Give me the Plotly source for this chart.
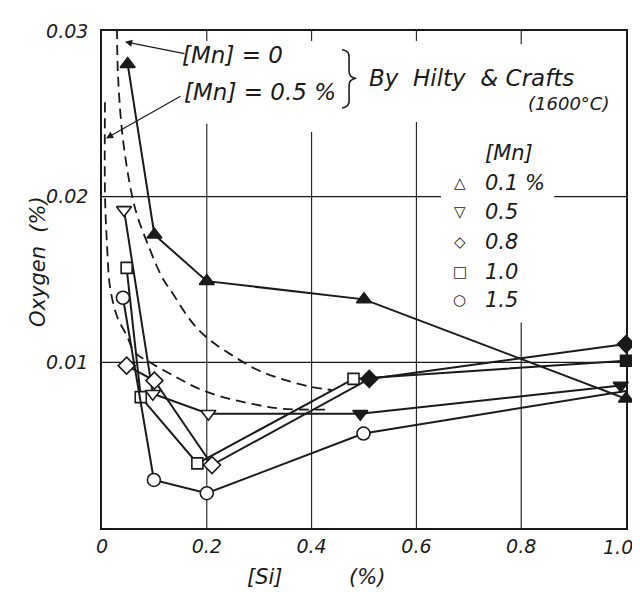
import plotly.graph_objects as go

# ---------------- data ----------------
si_mn01 = [0.049, 0.10, 0.20, 0.50, 1.00]
o_mn01 = [0.0280, 0.0177, 0.0149, 0.0138, 0.0078]

si_mn05 = [0.042, 0.097, 0.203, 0.493, 0.99]
o_mn05 = [0.0192, 0.0081, 0.0069, 0.0069, 0.0086]

si_mn08 = [0.047, 0.10, 0.21, 0.51, 1.00]
o_mn08 = [0.0098, 0.0089, 0.0038, 0.0090, 0.0111]

si_mn10 = [0.047, 0.074, 0.182, 0.48, 1.00]
o_mn10 = [0.0157, 0.0079, 0.0039, 0.0090, 0.0101]

si_mn15 = [0.040, 0.099, 0.20, 0.499, 1.005]
o_mn15 = [0.0139, 0.0029, 0.0021, 0.0057, 0.0083]

# Hilty & Crafts curves
si_hc0 = [0.0285, 0.0304, 0.0398, 0.0569, 0.0683, 0.0873, 0.1139, 0.1347, 0.1727,
          0.2049, 0.2486, 0.2941, 0.3435, 0.4004, 0.4383]
o_hc0 = [0.0311, 0.02744, 0.02351, 0.02012, 0.01875, 0.01714, 0.01518, 0.01417, 0.01238,
         0.01137, 0.01042, 0.00958, 0.00899, 0.00851, 0.00833]

si_hc05 = [0.0057, 0.0057, 0.0095, 0.0152, 0.0285, 0.0474, 0.0626, 0.0911, 0.1347,
           0.186, 0.243, 0.294, 0.3435, 0.4326]
o_hc05 = [0.0257, 0.02012, 0.01714, 0.01458, 0.0128, 0.0116, 0.0106, 0.0100, 0.00923,
          0.00839, 0.0078, 0.00744, 0.0072, 0.00714]

x_tickvals = [0, 0.2, 0.4, 0.6, 0.8, 1.0]
x_ticktext = ["0", "0.2", "0.4", "0.6", "0.8", "1.0"]
y_tickvals = [0.01, 0.02, 0.03]
y_ticktext = ["0.01", "0.02", "0.03"]

legend_labels = ["0.1 %", "0.5", "0.8", "1.0", "1.5"]
legend_glyphs = ["△", "▽", "◇", "□", "○"]

# ---------------- styling ----------------
INK = "#1a1a1a"
FONT = "DejaVu Sans"
OFF = 8  # page body margin
W, H = 632, 584
L, R, T, B = 94, 12, 16, 64


def px(xp, yp):
    xf, yf = xp - OFF, yp - OFF
    return (xf - L) / (W - L - R), (H - B - yf) / (H - T - B)


fig = go.Figure()

series = [
    (si_mn01, o_mn01, "triangle-up", 13, [INK] * 5),
    (si_mn05, o_mn05, "triangle-down", 13, ["white", "white", "white", INK, INK]),
    (si_mn08, o_mn08, "diamond", 13, ["white", "white", "white", INK, INK]),
    (si_mn10, o_mn10, "square", 11, ["white", "white", "white", "white", INK]),
    (si_mn15, o_mn15, "circle", 13, ["white"] * 5),
]

for xs, ys in [(si_hc0, o_hc0), (si_hc05, o_hc05)]:
    fig.add_trace(go.Scatter(x=xs, y=ys, mode="lines",
                             line=dict(color=INK, width=1.8, dash="10px,6px", shape="spline"),
                             showlegend=False, hoverinfo="skip", cliponaxis=False))

for xs, ys, sym, sz, fills in series:
    fig.add_trace(go.Scatter(
        x=xs, y=ys, mode="lines+markers",
        line=dict(color=INK, width=2),
        marker=dict(symbol=sym, size=sz, color=fills, line=dict(color=INK, width=1.6)),
        showlegend=False, cliponaxis=False))

# grid lines drawn as segments (gaps around the lettering)
grid = [
    ("v", 0.2, [(0.0294, 0.030), (0.0, 0.0244)]),
    ("v", 0.4, [(0.0294, 0.030), (0.0, 0.0239)]),
    ("v", 0.6, [(0.0294, 0.030), (0.0, 0.0245)]),
    ("v", 0.8, [(0.0292, 0.030), (0.0, 0.0124)]),
    ("h", 0.02, [(0.0, 0.647), (0.863, 1.0)]),
    ("h", 0.01, [(0.0, 1.0)]),
]
for kind, pos, segs in grid:
    for a, b in segs:
        if kind == "v":
            fig.add_shape(type="line", x0=pos, x1=pos, y0=a, y1=b, xref="x", yref="y",
                          line=dict(color=INK, width=1.1), layer="below")
        else:
            fig.add_shape(type="line", x0=a, x1=b, y0=pos, y1=pos, xref="x", yref="y",
                          line=dict(color=INK, width=1.1), layer="below")


def bp(xp, yp):
    x, y = px(xp, yp)
    return f"{x:.4f},{y:.4f}"


brace = (f"M{bp(343,43)} Q{bp(351,44)} {bp(350,52)} L{bp(350,65)} Q{bp(350,71)} {bp(357,72)} "
         f"Q{bp(350,73)} {bp(350,79)} L{bp(350,93)} Q{bp(351,101)} {bp(343,102)}")
fig.add_shape(type="path", path=brace, xref="paper", yref="paper", line=dict(color=INK, width=1.6))

ann = []


def text(xp, yp, s, size, anchor="left", angle=0):
    x, y = px(xp, yp)
    ann.append(dict(x=x, y=y, xref="paper", yref="paper", text=s, showarrow=False,
                    xanchor=anchor, yanchor="middle", textangle=angle,
                    font=dict(family=FONT, size=size, color=INK, style="italic")))


text(180, 48, "[Mn] = 0", 23)
text(182, 86, "[Mn] = 0.5 %", 23)
text(368, 72, "By  Hilty  & Crafts", 23)
text(613, 98, "(1600°C)", 18, anchor="right")
text(484, 148, "[Mn]", 21)
rows = [178, 208, 238, 268, 297]
for g, lab, yp in zip(legend_glyphs, legend_labels, rows):
    x, y = px(461, yp)
    ann.append(dict(x=x, y=y, xref="paper", yref="paper", text=g, showarrow=False,
                    xanchor="center", yanchor="middle", font=dict(family=FONT, size=15, color=INK)))
    text(484, yp, lab, 21)

# last x tick label placed inside the page edge
text(637, 547, x_ticktext[-1], 19, anchor="right")
text(266, 578, "[Si]", 21, anchor="center")
text(368, 578, "(%)", 21, anchor="center")
text(38, 258, "Oxygen  (%)", 21, anchor="center", angle=-90)

# arrows
for (hx, hy), (tx, ty) in [((125, 35), (186, 47)), ((106, 133), (182, 90))]:
    x, y = px(hx, hy)
    ann.append(dict(x=x, y=y, xref="paper", yref="paper", text="", showarrow=True,
                    ax=tx - hx, ay=ty - hy, arrowhead=2, arrowsize=1.2, arrowwidth=1.2,
                    arrowcolor=INK))

fig.update_layout(
    width=W, height=H, margin=dict(l=L, r=R, t=T, b=B),
    paper_bgcolor="white", plot_bgcolor="white",
    annotations=ann, showlegend=False,
    xaxis=dict(range=[0, 1.0], tickvals=x_tickvals[:-1], ticktext=x_ticktext[:-1], showgrid=False,
               zeroline=False, showline=True, mirror=True, linecolor=INK, linewidth=1.6, ticks="",
               tickfont=dict(family=FONT, size=19, color=INK, style="italic")),
    yaxis=dict(range=[0, 0.03], tickvals=y_tickvals, ticktext=y_ticktext, showgrid=False, zeroline=False,
               showline=True, mirror=True, linecolor=INK, linewidth=1.6, ticks="", ticklabelstandoff=8,
               tickfont=dict(family=FONT, size=19, color=INK, style="italic")),
)

fig.write_html("out.html")
